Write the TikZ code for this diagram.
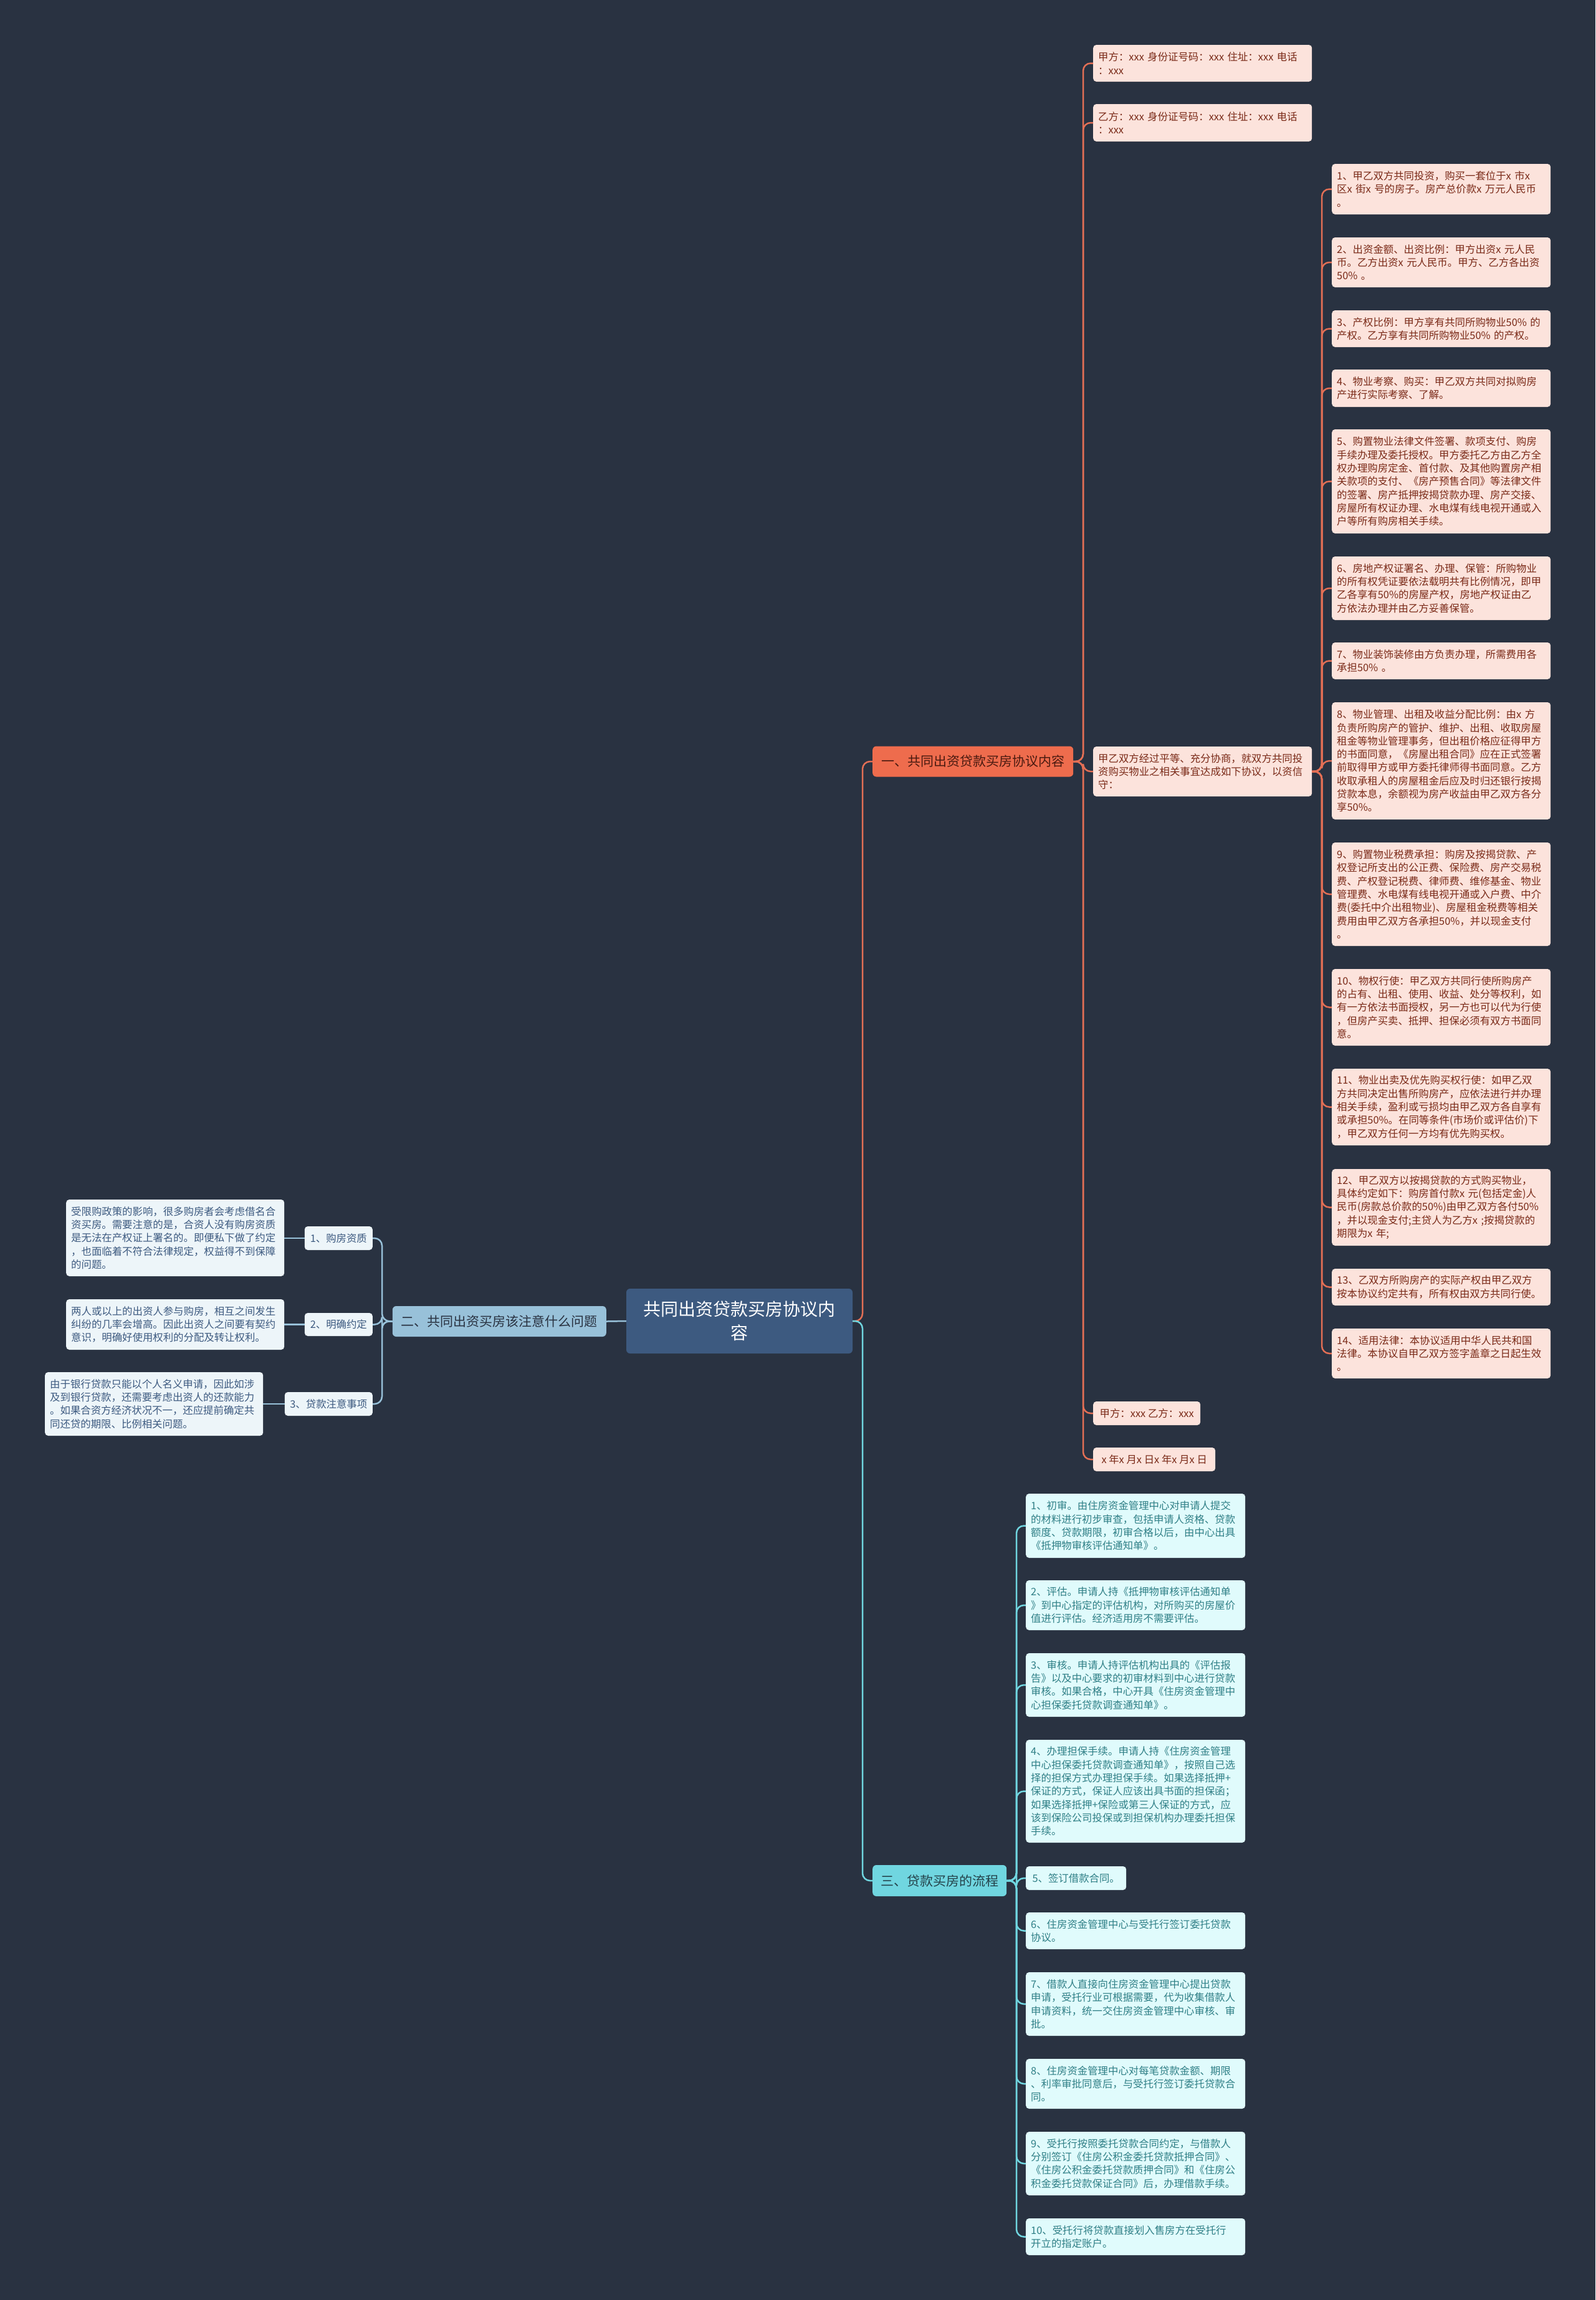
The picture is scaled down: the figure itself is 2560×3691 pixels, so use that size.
\documentclass[tikz,border=0pt]{standalone}
\usepackage{fontspec}
\setmainfont{Noto Sans CJK SC}
\usepackage{tikz}
\definecolor{bg}{HTML}{293241}
\definecolor{rootfill}{HTML}{3D5A80}
\definecolor{onefill}{HTML}{EE6C4D}
\definecolor{onetext}{HTML}{4A1A10}
\definecolor{pinkfill}{HTML}{FCE3DC}
\definecolor{pinktext}{HTML}{7A2A18}
\definecolor{oneline}{HTML}{E36F55}
\definecolor{twofill}{HTML}{98C1D9}
\definecolor{bluefill}{HTML}{EDF5F9}
\definecolor{bluetext}{HTML}{3D5A80}
\definecolor{threefill}{HTML}{70D6E0}
\definecolor{threetext}{HTML}{24424A}
\definecolor{cyanfill}{HTML}{E0FBFC}
\definecolor{cyantext}{HTML}{2F7F86}

\tikzset{
  rootbox/.style={fill=rootfill, text=white, rounded corners=6pt, align=center,
    font=\fontsize{28}{38}\selectfont, minimum width=363, minimum height=104, inner sep=0pt},
  branchbox/.style={rounded corners=6pt, inner xsep=12pt, inner ysep=0pt,
    font=\fontsize{21}{26}\selectfont},
  leafbase/.style={rounded corners=5pt, align=left, inner xsep=8pt, inner ysep=0pt,
    anchor=west, font=\fontsize{16.4}{21.3}\selectfont},
  pinkleaf/.style={leafbase, fill=pinkfill, text=pinktext, text width=335pt},
  pinkshort/.style={leafbase, fill=pinkfill, text=pinktext},
  blueleaf/.style={leafbase, fill=bluefill, text=bluetext, text width=334pt},
  blueshort/.style={leafbase, fill=bluefill, text=bluetext, anchor=east},
  cyanleaf/.style={leafbase, fill=cyanfill, text=cyantext, text width=336pt},
  link/.style={line width=2.5pt, rounded corners=12pt},
  onelink/.style={link, draw=oneline},
  twolink/.style={link, draw=twofill},
  threelink/.style={link, draw=threefill}
}

\begin{document}
\begin{tikzpicture}[x=1pt, y=-1pt]
  \fill[bg] (0,0) rectangle (2560,3691);

  % centre and main branches
  \node[rootbox] (root) at (1186.5,2120) {共同出资贷款买房协议内\\容};
  \node[branchbox, fill=onefill, text=onetext, anchor=west, minimum width=322, minimum height=49]
    (one) at (1400,1222) {一、共同出资贷款买房协议内容};
  \node[branchbox, fill=twofill, text=bg, anchor=east, minimum width=343, minimum height=49]
    (two) at (973,2120.5) {二、共同出资买房该注意什么问题};
  \node[branchbox, fill=threefill, text=threetext, anchor=west, minimum width=215, minimum height=50]
    (three) at (1400,3018) {三、贷款买房的流程};

  % branch one
  \node[pinkleaf, minimum height=59] (jia) at (1754,101.5) {甲方：xxx 身份证号码：xxx 住址：xxx 电话\\：xxx};
  \node[pinkleaf, minimum height=60] (yi) at (1754,197) {乙方：xxx 身份证号码：xxx 住址：xxx 电话\\：xxx};
  \node[pinkleaf, minimum height=80] (intro) at (1754,1238) {甲乙双方经过平等、充分协商，就双方共同投\\资购买物业之相关事宜达成如下协议，以资信\\守：};
  \node[pinkshort, minimum height=38, minimum width=172] (sign) at (1754,2268) {甲方：xxx 乙方：xxx};
  \node[pinkshort, minimum height=38, minimum width=196] (date) at (1754,2342) {x 年x 月x 日x 年x 月x 日};

  \node[pinkleaf, minimum height=81] (p1) at (2137,303.5) {1、甲乙双方共同投资，购买一套位于x 市x\\区x 街x 号的房子。房产总价款x 万元人民币\\。};
  \node[pinkleaf, minimum height=80] (p2) at (2137,421) {2、出资金额、出资比例：甲方出资x 元人民\\币。乙方出资x 元人民币。甲方、乙方各出资\\50\% 。};
  \node[pinkleaf, minimum height=59] (p3) at (2137,527.5) {3、产权比例：甲方享有共同所购物业50\% 的\\产权。乙方享有共同所购物业50\% 的产权。};
  \node[pinkleaf, minimum height=60] (p4) at (2137,623) {4、物业考察、购买：甲乙双方共同对拟购房\\产进行实际考察、了解。};
  \node[pinkleaf, minimum height=167] (p5) at (2137,772.5) {5、购置物业法律文件签署、款项支付、购房\\手续办理及委托授权。甲方委托乙方由乙方全\\权办理购房定金、首付款、及其他购置房产相\\关款项的支付、《房产预售合同》等法律文件\\的签署、房产抵押按揭贷款办理、房产交接、\\房屋所有权证办理、水电煤有线电视开通或入\\户等所有购房相关手续。};
  \node[pinkleaf, minimum height=102] (p6) at (2137,944) {6、房地产权证署名、办理、保管：所购物业\\的所有权凭证要依法载明共有比例情况，即甲\\乙各享有50\%的房屋产权，房地产权证由乙\\方依法办理并由乙方妥善保管。};
  \node[pinkleaf, minimum height=59] (p7) at (2137,1060.5) {7、物业装饰装修由方负责办理，所需费用各\\承担50\% 。};
  \node[pinkleaf, minimum height=188] (p8) at (2137,1221) {8、物业管理、出租及收益分配比例：由x 方\\负责所购房产的管护、维护、出租、收取房屋\\租金等物业管理事务，但出租价格应征得甲方\\的书面同意，《房屋出租合同》应在正式签署\\前取得甲方或甲方委托律师得书面同意。乙方\\收取承租人的房屋租金后应及时归还银行按揭\\贷款本息，余额视为房产收益由甲乙双方各分\\享50\%。};
  \node[pinkleaf, minimum height=166] (p9) at (2137,1435) {9、购置物业税费承担：购房及按揭贷款、产\\权登记所支出的公正费、保险费、房产交易税\\费、产权登记税费、律师费、维修基金、物业\\管理费、水电煤有线电视开通或入户费、中介\\费(委托中介出租物业)、房屋租金税费等相关\\费用由甲乙双方各承担50\%，并以现金支付\\。};
  \node[pinkleaf, minimum height=123] (p10) at (2137,1616.5) {10、物权行使：甲乙双方共同行使所购房产\\的占有、出租、使用、收益、处分等权利，如\\有一方依法书面授权，另一方也可以代为行使\\，但房产买卖、抵押、担保必须有双方书面同\\意。};
  \node[pinkleaf, minimum height=123] (p11) at (2137,1776.5) {11、物业出卖及优先购买权行使：如甲乙双\\方共同决定出售所购房产，应依法进行并办理\\相关手续，盈利或亏损均由甲乙双方各自享有\\或承担50\%。在同等条件(市场价或评估价)下\\，甲乙双方任何一方均有优先购买权。};
  \node[pinkleaf, minimum height=123] (p12) at (2137,1937.5) {12、甲乙双方以按揭贷款的方式购买物业，\\具体约定如下：购房首付款x 元(包括定金)人\\民币(房款总价款的50\%)由甲乙双方各付50\%\\，并以现金支付;主贷人为乙方x ;按揭贷款的\\期限为x 年;};
  \node[pinkleaf, minimum height=59] (p13) at (2137,2065.5) {13、乙双方所购房产的实际产权由甲乙双方\\按本协议约定共有，所有权由双方共同行使。};
  \node[pinkleaf, minimum height=80] (p14) at (2137,2172) {14、适用法律：本协议适用中华人民共和国\\法律。本协议自甲乙双方签字盖章之日起生效\\。};

  % branch two
  \node[blueshort, minimum height=38, minimum width=109] (q1) at (598,1987) {1、购房资质};
  \node[blueshort, minimum height=37, minimum width=109] (q2) at (598,2125.5) {2、明确约定};
  \node[blueshort, minimum height=38, minimum width=141] (q3) at (598,2253) {3、贷款注意事项};
  \node[blueleaf, minimum height=123] (l1) at (106,1986.5) {受限购政策的影响，很多购房者会考虑借名合\\资买房。需要注意的是，合资人没有购房资质\\是无法在产权证上署名的。即便私下做了约定\\，也面临着不符合法律规定，权益得不到保障\\的问题。};
  \node[blueleaf, minimum height=81] (l2) at (106,2125.5) {两人或以上的出资人参与购房，相互之间发生\\纠纷的几率会增高。因此出资人之间要有契约\\意识，明确好使用权利的分配及转让权利。};
  \node[blueleaf, minimum height=102] (l3) at (72,2253) {由于银行贷款只能以个人名义申请，因此如涉\\及到银行贷款，还需要考虑出资人的还款能力\\。如果合资方经济状况不一，还应提前确定共\\同还贷的期限、比例相关问题。};

  % branch three
  \node[cyanleaf, minimum height=103] (c1) at (1646,2448.5) {1、初审。由住房资金管理中心对申请人提交\\的材料进行初步审查，包括申请人资格、贷款\\额度、贷款期限，初审合格以后，由中心出具\\《抵押物审核评估通知单》。};
  \node[cyanleaf, minimum height=80] (c2) at (1646,2576) {2、评估。申请人持《抵押物审核评估通知单\\》到中心指定的评估机构，对所购买的房屋价\\值进行评估。经济适用房不需要评估。};
  \node[cyanleaf, minimum height=102] (c3) at (1646,2704) {3、审核。申请人持评估机构出具的《评估报\\告》以及中心要求的初审材料到中心进行贷款\\审核。如果合格，中心开具《住房资金管理中\\心担保委托贷款调查通知单》。};
  \node[cyanleaf, minimum height=165] (c4) at (1646,2874.5) {4、办理担保手续。申请人持《住房资金管理\\中心担保委托贷款调查通知单》，按照自己选\\择的担保方式办理担保手续。如果选择抵押+\\保证的方式，保证人应该出具书面的担保函；\\如果选择抵押+保险或第三人保证的方式，应\\该到保险公司投保或到担保机构办理委托担保\\手续。};
  \node[leafbase, fill=cyanfill, text=cyantext, minimum height=38, minimum width=161] (c5) at (1646,3014) {5、签订借款合同。};
  \node[cyanleaf, minimum height=59] (c6) at (1646,3098.5) {6、住房资金管理中心与受托行签订委托贷款\\协议。};
  \node[cyanleaf, minimum height=102] (c7) at (1646,3216) {7、借款人直接向住房资金管理中心提出贷款\\申请，受托行业可根据需要，代为收集借款人\\申请资料，统一交住房资金管理中心审核、审\\批。};
  \node[cyanleaf, minimum height=80] (c8) at (1646,3344) {8、住房资金管理中心对每笔贷款金额、期限\\、利率审批同意后，与受托行签订委托贷款合\\同。};
  \node[cyanleaf, minimum height=102] (c9) at (1646,3472) {9、受托行按照委托贷款合同约定，与借款人\\分别签订《住房公积金委托贷款抵押合同》、\\《住房公积金委托贷款质押合同》和《住房公\\积金委托贷款保证合同》后，办理借款手续。};
  \node[cyanleaf, minimum height=59] (c10) at (1646,3589.5) {10、受托行将贷款直接划入售房方在受托行\\开立的指定账户。};

  % connectors
  \coordinate (hub) at (1384,2120);
  \draw[onelink] (root.east) -- (hub) |- (one.west);
  \draw[threelink] (root.east) -- (hub) |- (three.west);
  \draw[twolink] (root.west) -- (two.east);

  \coordinate (spineone) at (1738,1222);
  \foreach \n in {jia,yi,intro,sign,date}
    \draw[onelink] (one.east) -- (spineone) |- (\n.west);
  \coordinate (spineitem) at (2121,1238);
  \foreach \n in {1,...,14}
    \draw[onelink] (intro.east) -- (spineitem) |- (p\n.west);

  \coordinate (spinetwo) at (613,2120);
  \foreach \n in {1,2,3} {
    \draw[twolink] (two.west) -- (spinetwo) |- (q\n.east);
    \draw[twolink] (q\n.west) -- (l\n.east |- q\n.west);
  }

  \coordinate (spinethree) at (1631,3018);
  \foreach \n in {1,...,10}
    \draw[threelink] (three.east) -- (spinethree) |- (c\n.west);
\end{tikzpicture}
\end{document}
